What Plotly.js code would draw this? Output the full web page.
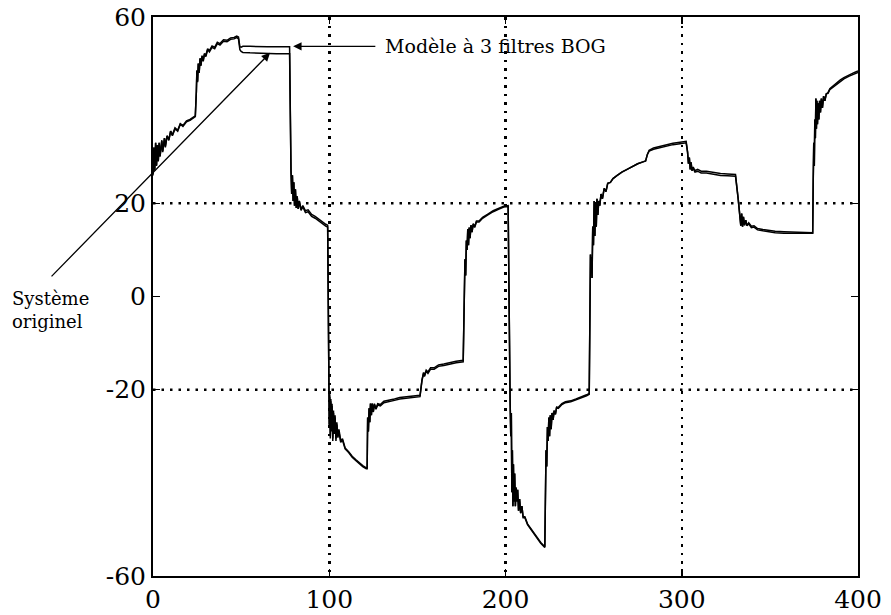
<!DOCTYPE html>
<html>
<head>
<meta charset="utf-8">
<script src="https://cdn.plot.ly/plotly-3.0.1.min.js"></script>
<style>html,body{margin:0;padding:0;background:#fff;}#chart{width:891px;height:615px;}</style>
</head>
<body>
<div id="chart"></div>
<script>
// time samples (x axis)
const xs = [
  0,0.5,1,1.5,2,2.5,3,3.5,4,5,5.5,6.5,7,8,9,10,11,12.5,14,15.5,17,19,21,23,24,
  24.6,24.9,25.3,25.7,26.2,26.7,27.2,27.8,28.5,29.2,30,31,32,33.5,35,36.5,38,40,42,44,46,47.5,48.5,
  49.3,50,51,55,60,65,70,75,77.5,
  78.3,78.7,79.1,79.5,79.9,80.3,80.8,81.3,81.8,82.4,83,84,85,86.5,88,90,92,94,96,98,99.1,
  99.6,100,100.3,100.6,100.9,101.2,101.6,102,102.4,102.8,103.3,103.8,104.3,104.9,105.5,106.5,107.5,109,111,113,115,117,119,121,121.5,
  121.8,122.2,122.6,123,123.4,123.9,124.4,125,125.6,126.5,127.5,129,131,134,137,140,144,148,151.5,
  152.6,153,153.5,154,155,156,157.5,159.5,162,165,168,172,176,
  176.6,177,177.4,177.8,178.2,178.6,179,179.4,179.9,180.4,181,181.7,182.5,183.5,185,187,190,193,196,199,201.5,
  202.3,202.6,203,203.3,203.6,203.9,204.2,204.5,204.8,205.2,205.6,206,206.4,206.9,207.4,208,208.6,209.3,210,211,212.5,214,216,218,220,222.3,
  222.6,223,223.4,223.8,224.2,224.6,225,225.4,225.9,226.4,227,227.6,228.3,229,230,232,234,237,240,243,246,247.5,
  247.9,248.2,248.5,248.8,249.1,249.5,249.9,250.3,250.7,251.1,251.5,251.9,252.4,252.9,253.5,254.2,255,256,257,258,259.5,261,263,266,269,272,275,278,279.5,280.5,281.5,284,287,291,295,299,302.5,
  303.3,303.8,304.3,304.8,305.3,305.8,306.5,307.5,309,311,314,318,322,326,330.5,
  332,333,333.5,334,334.5,335,335.6,336.3,337,338,339.5,341,343,346,349,353,358,364,370,374.3,
  374.6,374.9,375.2,375.5,375.8,376.1,376.4,376.7,377,377.4,377.8,378.2,378.7,379.2,379.8,380.5,381.2,382,383,384,386,388,390,392,395,398,400
];
// "Système originel"
const yOriginal = [
  26,32,27,33,28,32.5,29,33,30,33.5,31,34,32,34.5,33.5,35.5,34.5,36,35.5,37,36.5,37.5,37.8,38.3,38.6,
  44,48.5,46,50,48,51,49.5,51.5,50.5,52,51.5,53,52.5,53.5,53.2,54.3,54,54.8,54.7,55.2,55.3,55.6,55.3,
  53,52.6,52.4,52.3,52.2,52.2,52.1,52.1,52.1,
  27,22,26,20.5,24.5,19.5,23,19,21.5,18.8,20.5,18.5,19.3,18,18.2,17.2,16.8,16.2,15.6,15.1,14.9,
  -19,-28,-21,-30.5,-22,-29,-23,-31,-24.5,-29,-25.5,-31,-27,-30,-28.5,-31,-30.5,-32.5,-33.3,-34.3,-35,-35.7,-36.3,-36.8,-36.8,
  -26,-29,-24,-27,-23,-25.5,-23,-24.8,-23.2,-24.2,-23.3,-23.5,-22.8,-22.6,-22.3,-22,-21.8,-21.6,-21.5,
  -18,-17,-16.5,-17.2,-16,-16.5,-15.6,-15.6,-15,-14.8,-14.5,-14.2,-14,
  5,8,4.5,12,10,14.5,11,14.8,12.5,15.3,13.8,15.6,14.8,16,16,16.8,17.5,18.2,18.7,19.2,19.3,
  -18,-22,-30,-25,-42,-33,-45,-36,-44,-38,-45,-41,-44,-41.5,-46,-43.5,-46.5,-45,-47.5,-47.5,-49,-49.8,-51,-52,-53,-53.9,
  -35,-33,-36.5,-28,-31,-26,-30,-25.5,-28.5,-25,-26.5,-24.5,-25.3,-23.8,-24,-23.2,-22.8,-22.6,-22.2,-21.8,-21.3,-21,
  2,9,5,8.5,4,15,11,20.5,13,20,15,21,17.5,20.5,19.5,22,21,23.2,22.5,24.3,24.5,25.3,25.9,26.7,27.3,27.9,28.5,28.9,29.1,30.5,31.2,31.6,31.9,32.3,32.6,32.8,33,
  31,28.5,29.8,27.3,28.8,27,27.8,27,27.3,26.9,26.9,26.6,26.4,26.3,26.2,
  21,17,15.2,17.8,15,17.1,15.3,16.4,15.2,15.6,14.8,14.9,14.3,14.1,13.9,13.7,13.6,13.6,13.6,13.6,
  25,33,28,38,34,42.5,36,42,37,41.5,38,42,39.5,42.5,40.5,43,42,43.5,43.6,44.4,45,45.6,46.2,46.7,47.3,47.8,48.1
];
// "Modèle à 3 filtres BOG"
const yModel = [
  26.3,32,27.3,33,28.2,32.5,29.2,33,30.2,33.5,31.2,34,32.2,34.5,33.7,35.5,34.7,36.2,35.7,37.1,36.7,37.7,38,38.5,38.8,
  44,48.5,46.2,50,48.2,51.2,49.7,51.7,50.8,52.2,51.8,53.2,52.8,53.8,53.5,54.6,54.3,55.1,55,55.5,55.6,55.9,55.7,
  53.6,53.5,53.7,53.7,53.6,53.6,53.6,53.6,53.6,
  27,22,26,20.5,24.5,19.5,23,19,21.5,18.8,20.5,18.7,19.5,18.4,18.6,17.6,17.2,16.6,16,15.5,15.3,
  -19,-27.5,-21.5,-30,-22.5,-28.5,-23.5,-30.5,-25,-29.5,-26,-30.5,-27.5,-30.3,-29,-31.3,-30.8,-32.7,-33.5,-34.5,-35.2,-35.9,-36.5,-37,-37,
  -26,-29,-24,-27,-23,-25.5,-23,-24.6,-23,-24,-23,-23.2,-22.5,-22.3,-22,-21.7,-21.5,-21.3,-21.2,
  -18,-17,-16.3,-17,-15.8,-16.2,-15.3,-15.3,-14.7,-14.5,-14.2,-13.9,-13.7,
  5,8,4.5,12,10,14.5,11,14.8,12.5,15.3,13.8,15.6,15,16.2,16.2,17,17.7,18.4,18.9,19.4,19.5,
  -18,-22,-30,-25,-42,-33,-45,-36,-44,-38,-45,-41,-44,-41.5,-46,-43.5,-46.5,-45,-47.3,-47.3,-48.8,-49.6,-50.8,-51.8,-52.8,-53.7,
  -35,-33,-36.5,-28,-31,-26,-30,-25.5,-28.5,-25,-26.5,-24.5,-25.3,-23.8,-23.8,-23,-22.6,-22.4,-22,-21.6,-21.1,-20.8,
  2,9,5,8.5,4,15,11,20.5,13,20,15,21,17.5,20.5,19.5,22,21,23.2,22.5,24.3,24.5,25.3,25.9,26.7,27.3,27.9,28.5,28.9,29.1,30.5,31.4,31.9,32.2,32.6,32.9,33.1,33.3,
  31,28.5,29.8,27.3,28.8,27,27.5,26.7,26.9,26.5,26.5,26.2,26,25.9,25.8,
  21,17,15.2,17.8,15,17.1,15.3,16.4,15.2,15.8,15.1,15.2,14.6,14.4,14.2,14,13.9,13.8,13.7,13.7,
  25,33,28,38,34,42.5,36,42,37,41.5,38,42,39.5,42.5,40.5,43,42,43.5,43.8,44.6,45.3,45.9,46.5,47,47.6,48.1,48.4
];
const xTicks = [0, 100, 200, 300, 400];
const yTicks = [-60, -20, 0, 20, 60];
const yTickText = ['-60', '-20', '0', '20', '60'];
const yGridVals = [-20, 20];
const labelModel = 'Modèle à 3 filtres BOG';
const labelOriginal = 'Système<br>originel';

const serif = 'DejaVu Serif';
const traces = [
  {x: xs, y: yOriginal, type: 'scatter', mode: 'lines', name: 'Système originel',
   line: {color: '#000', width: 1.5}},
  {x: xs, y: yModel, type: 'scatter', mode: 'lines', name: 'Modèle à 3 filtres BOG',
   line: {color: '#000', width: 1.5}}
];
const axisCommon = {
  ticks: 'inside', ticklen: 7, tickwidth: 1.5, tickcolor: '#000',
  showline: true, mirror: 'ticks', linecolor: '#000', linewidth: 2,
  zeroline: false, tickfont: {family: serif, size: 25, color: '#000'}
};
const gridDash = '2.5px,6px';
const layout = {
  width: 891, height: 615,
  margin: {l: 153, r: 33, t: 17, b: 39},
  paper_bgcolor: '#fff', plot_bgcolor: '#fff',
  showlegend: false,
  xaxis: Object.assign({}, axisCommon, {
    range: [0, 400], tickmode: 'array', tickvals: xTicks,
    showgrid: true, gridcolor: '#000', gridwidth: 2.5, griddash: gridDash
  }),
  yaxis: Object.assign({}, axisCommon, {
    range: [-60, 60], tickmode: 'array', tickvals: yTicks, ticktext: yTickText, showgrid: false
  }),
  shapes: yGridVals.map(v => ({
    type: 'line', xref: 'paper', yref: 'y', x0: 0, x1: 1, y0: v, y1: v,
    line: {color: '#000', width: 2.5, dash: gridDash}, layer: 'below'
  })),
  annotations: [
    {x: 79.5, y: 53.7, xref: 'x', yref: 'y', ax: 127, ay: 53.7, axref: 'x', ayref: 'y',
     text: '', showarrow: true, arrowhead: 2, arrowsize: 1.3, arrowwidth: 1.3, arrowcolor: '#000'},
    {x: 130.5, y: 53.7, xref: 'x', yref: 'y', text: labelModel, showarrow: false,
     xanchor: 'left', yanchor: 'middle', font: {family: serif, size: 19, color: '#000'}},
    {x: 66.4, y: 52.3, xref: 'x', yref: 'y', ax: -58.4, ay: 4, axref: 'x', ayref: 'y',
     text: '', showarrow: true, arrowhead: 2, arrowsize: 1.3, arrowwidth: 1.3, arrowcolor: '#000'},
    {x: -0.203, y: 0.476, xref: 'paper', yref: 'paper', text: labelOriginal, showarrow: false,
     xanchor: 'left', yanchor: 'middle', align: 'left', font: {family: serif, size: 18, color: '#000'}}
  ]
};
Plotly.newPlot('chart', traces, layout, {staticPlot: true, displayModeBar: false});
</script>
</body>
</html>
